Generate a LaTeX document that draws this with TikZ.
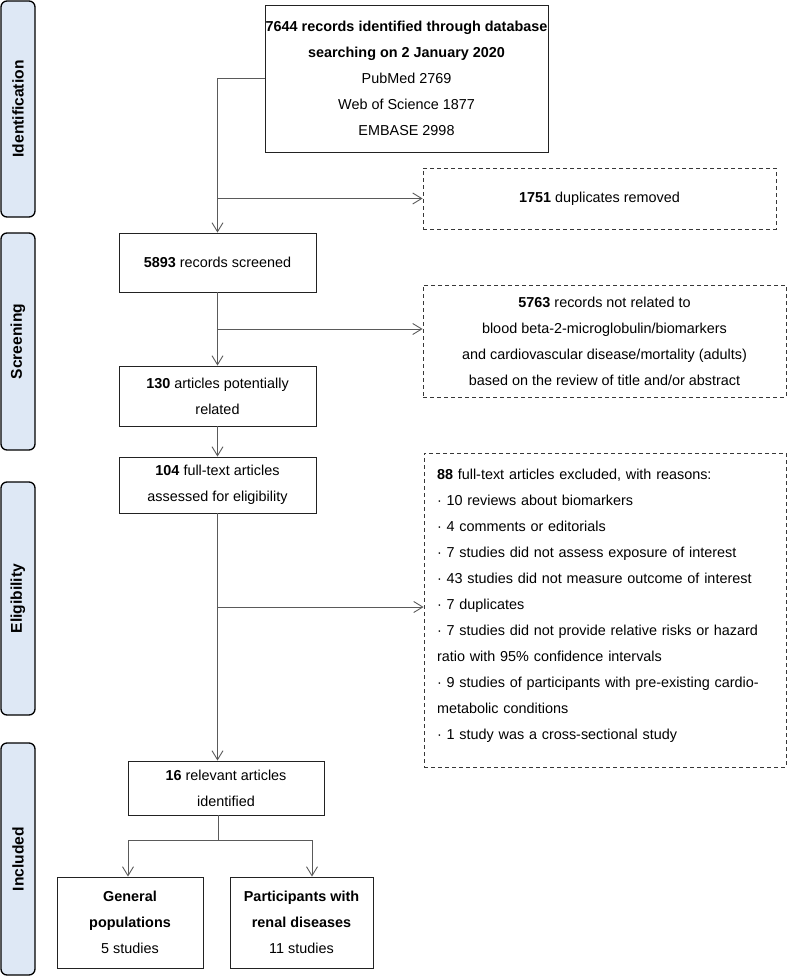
\documentclass[tikz,border=0pt]{standalone}
\usepackage{fontspec}
\setmainfont{Liberation Sans}
\usetikzlibrary{arrows.meta}
\definecolor{tabfill}{HTML}{DEE8F5}
\definecolor{linegray}{HTML}{5A5A5A}
\definecolor{boxline}{HTML}{222222}
\begin{document}
\begin{tikzpicture}[x=1pt,y=-1pt,
  every node/.style={font=\fontsize{14.4}{26}\selectfont},
  box/.style={draw=boxline, line width=0.9pt, align=center, inner sep=0pt},
  dbox/.style={box, draw=boxline!90, dash pattern=on 4pt off 3pt},
  tab/.style={draw=black, line width=1.3pt, fill=tabfill, rounded corners=6pt, inner sep=0pt,
    rotate=90, minimum height=34pt, font=\fontsize{15.6}{18}\selectfont\bfseries},
  conn/.style={draw=linegray, line width=0.9pt},
  arr/.style={conn, -{Straight Barb[length=9pt,width=11pt]}}]
\useasboundingbox (0,0) rectangle (787,977);

% phase tabs
\node[tab, minimum width=216pt] (tid) at (18,109) {Identification};
\node[tab, minimum width=217pt] (tsc) at (18,341.5) {Screening};
\node[tab, minimum width=233pt] (tel) at (18,598.5) {Eligibility};
\node[tab, minimum width=232pt] (tin) at (18,859) {Included};

% boxes
\node[box, minimum width=283pt, minimum height=147pt] (top) at (406.5,78.5)
  {\textbf{7644 records identified through database}\\
   \textbf{searching on 2 January 2020}\\
   PubMed 2769\\ Web of Science 1877\\ EMBASE 2998};
\node[dbox, minimum width=353pt, minimum height=61pt] (dup) at (599.5,198.5)
  {\textbf{1751} duplicates removed};
\node[box, minimum width=197pt, minimum height=59pt] (screened) at (217.5,262.5)
  {\textbf{5893} records screened};
\node[dbox, minimum width=363pt, minimum height=112pt] (notrel) at (604.5,341)
  {\textbf{5763} records not related to\\
   blood beta-2-microglobulin/biomarkers\\
   and cardiovascular disease/mortality (adults)\\
   based on the review of title and/or abstract};
\node[box, minimum width=197pt, minimum height=60pt] (potential) at (217.5,396)
  {\textbf{130} articles potentially\\ related};
\node[box, minimum width=197pt, minimum height=56pt] (fulltext) at (217.5,485)
  {\textbf{104} full-text articles\\ assessed for eligibility};
\node[dbox, minimum width=362pt, minimum height=314pt, align=left, text width=336pt] (excl) at (605,610)
  {\textbf{88} full-text articles excluded, with reasons:\\
   · 10 reviews about biomarkers\\
   · 4 comments or editorials\\
   · 7 studies did not assess exposure of interest\\
   · 43 studies did not measure outcome of interest\\
   · 7 duplicates\\
   · 7 studies did not provide relative risks or hazard\\
   ratio with 95\% confidence intervals\\
   · 9 studies of participants with pre-existing cardio-\\
   metabolic conditions\\
   · 1 study was a cross-sectional study\\[-14pt]\mbox{}};
\node[box, minimum width=196pt, minimum height=54pt] (relevant) at (226,788)
  {\textbf{16} relevant articles\\ identified};
\node[box, minimum width=146pt, minimum height=91pt] (general) at (130,922.5)
  {\textbf{General}\\ \textbf{populations}\\ 5 studies};
\node[box, minimum width=143pt, minimum height=91pt] (renal) at (301.5,922.5)
  {\textbf{Participants with}\\ \textbf{renal diseases}\\ 11 studies};

% connectors
\draw[arr] (top.west) -| (screened.north);
\coordinate (b1) at (screened.north |- dup.west);
\draw[arr] (b1) -- (dup.west);
\draw[arr] (screened.south) -- (potential.north);
\coordinate (b2) at (217.5,329);
\draw[arr] (b2) -- (notrel.west |- b2);
\draw[arr] (potential.south) -- (fulltext.north);
\draw[arr] (fulltext.south) -- (fulltext.south |- relevant.north);
\coordinate (b3) at (217.5,607);
\draw[arr] (b3) -- (excl.west |- b3);
\coordinate (b4) at (218.5,840);
\draw[conn] (b4 |- relevant.south) -- (b4);
\coordinate (c1) at (128,840);
\coordinate (c2) at (312,840);
\draw[conn] (c1) -- (c2);
\draw[arr] (c1) -- (c1 |- general.north);
\draw[arr] (c2) -- (c2 |- renal.north);
\end{tikzpicture}
\end{document}
